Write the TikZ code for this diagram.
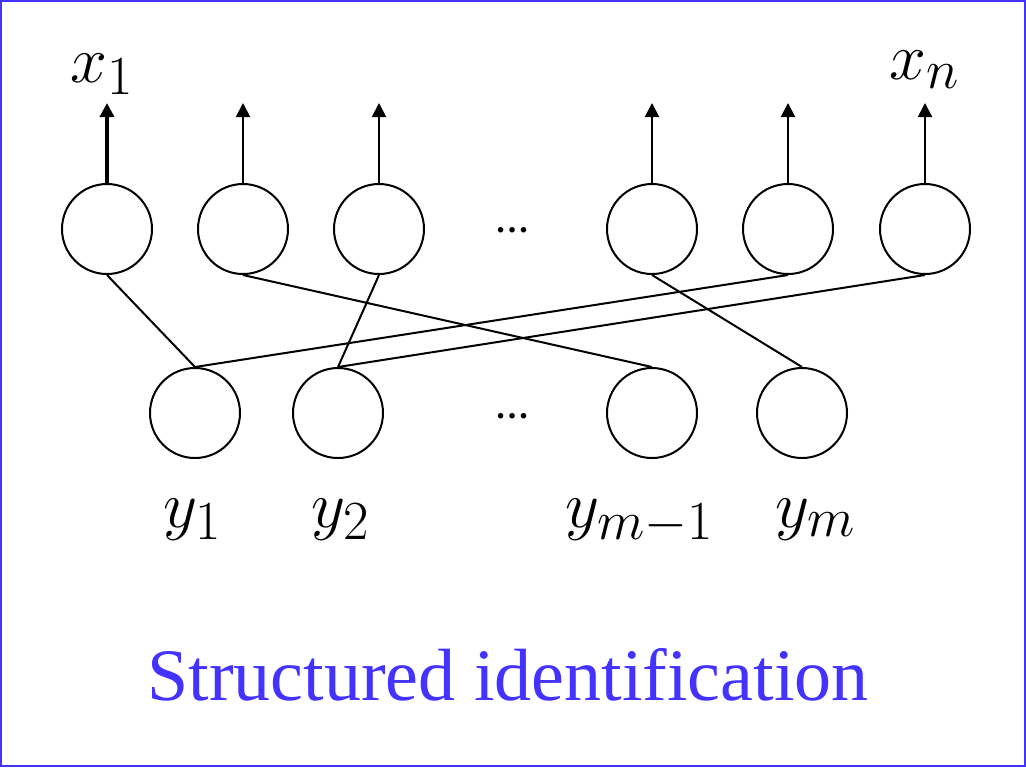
\documentclass[tikz,border=0pt]{standalone}
\usepackage{amsmath,amssymb}
\usepackage{graphicx}
\usepackage{fontspec}
\setmainfont{Liberation Serif}
\usepackage{tikz}
\usepackage{xcolor}
\usetikzlibrary{arrows.meta,positioning}
\definecolor{ink}{HTML}{000000}
\definecolor{frameblue}{HTML}{4433FF}
\newcommand{\biglabel}[1]{\scalebox{1.33}{$#1$}}

\begin{document}
\begin{tikzpicture}[x=0.5pt,y=-0.5pt,
    unit/.style={draw=ink,line width=1pt,circle,minimum size=45pt,inner sep=0pt},
    link/.style={draw=ink,line width=1pt},
    outarrow/.style={draw=ink,line width=1pt,-{Triangle[length=7pt,width=7pt]}},
    mathlabel/.style={font=\fontsize{24.88}{30}\selectfont,inner sep=0pt,anchor=base},
    skipdots/.style={font=\fontsize{17}{20}\selectfont\bfseries,inner sep=0pt}]
  \useasboundingbox (0,0) rectangle (1026,767);
  \draw[frameblue,line width=1pt] (1,1) rectangle (1025,766);

  % output layer
  \foreach \i/\px in {1/107,2/243,3/379,4/652,5/788,6/925}
    \node[unit] (t\i) at (\px,229) {};
  % input layer
  \foreach \i/\px in {1/195,2/338,3/652,4/802}
    \node[unit] (b\i) at (\px,413) {};

  \node[skipdots] (tdots) at (512,230) {\char"2026};
  \node[skipdots] (bdots) at (512,416) {\char"2026};

  % outputs
  \foreach \i in {1,...,6}
    \path (t\i.north) ++(0,-80) coordinate (o\i);
  \draw[outarrow,line width=2pt] (t1.north) -- (o1);
  \foreach \i in {2,...,6}
    \draw[outarrow] (t\i.north) -- (o\i);

  % structure
  \draw[link] (t1.south) -- (b1.north);
  \draw[link] (t2.south) -- (b3.north);
  \draw[link] (t3.south) -- (b2.north);
  \draw[link] (t4.south) -- (b4.north);
  \draw[link] (t5.south) -- (b1.north);
  \draw[link] (t6.south) -- (b2.north);

  \node[mathlabel] (lx1) at (102,82) {\biglabel{x_1}};
  \node[mathlabel] (lxn) at (925,79) {\biglabel{x_n}};
  \node[mathlabel] (ly1) at (193,527) {\biglabel{y_1}};
  \node[mathlabel] (ly2) at (341,527) {\biglabel{y_2}};
  \node[mathlabel] (lym1) at (640,527) {\biglabel{y_{m-1}}};
  \node[mathlabel] (lym) at (816,527) {\biglabel{y_m}};

  \node[text=frameblue,font=\fontsize{37}{40}\selectfont,inner sep=0pt,anchor=base]
    (title) at (508,700) {Structured identification};
\end{tikzpicture}
\end{document}
